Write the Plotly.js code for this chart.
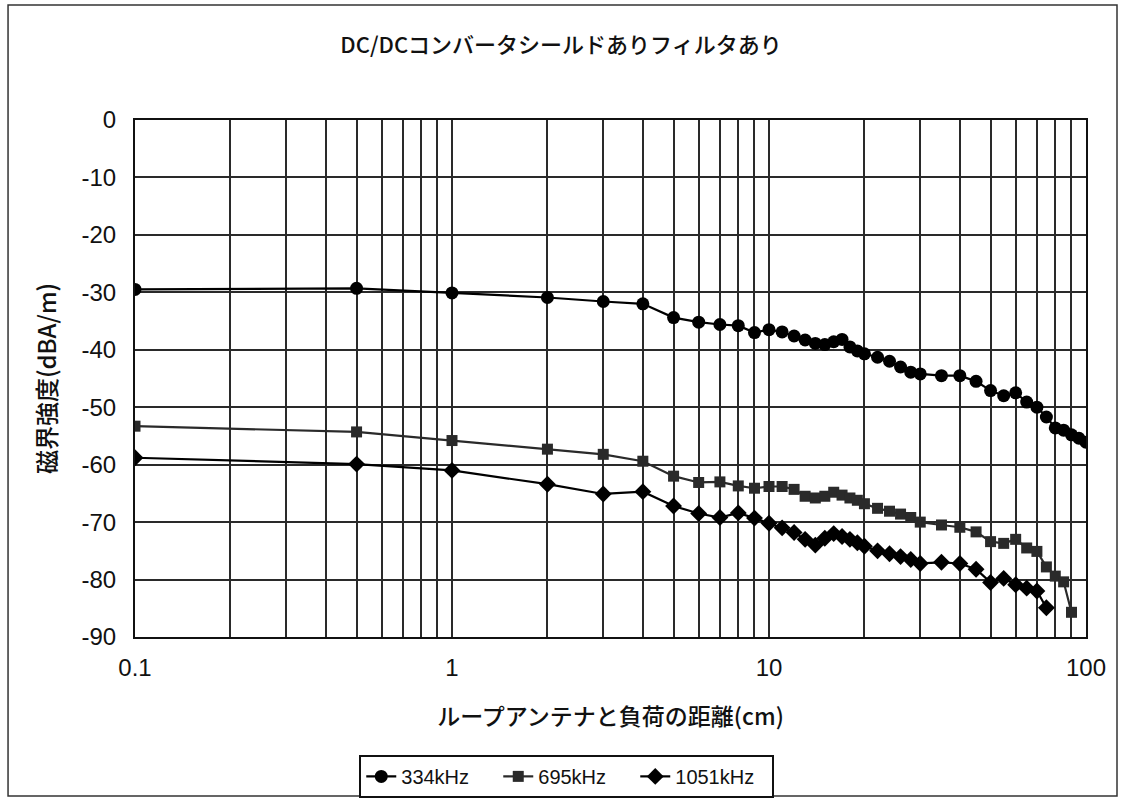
<!DOCTYPE html>
<html>
<head>
<meta charset="utf-8">
<script src="https://cdn.plot.ly/plotly-3.0.1.min.js"></script>
<style>html,body{margin:0;padding:0;background:#fff;}#chart{width:1122px;height:799px;}</style>
</head>
<body>
<div id="chart"></div>
<script>
// Distance between loop antenna and load (cm)
const distance = [0.1, 0.5, 1, 2, 3, 4, 5, 6, 7, 8, 9, 10, 11, 12, 13, 14, 15, 16, 17, 18, 19, 20,
  22, 24, 26, 28, 30, 35, 40, 45, 50, 55, 60, 65, 70, 75, 80, 85, 90, 95, 100];

const s334 = [-29.5, -29.3, -30.1, -30.9, -31.6, -32.0, -34.4, -35.2, -35.6, -35.8, -37.0, -36.5,
  -36.9, -37.6, -38.3, -38.9, -39.1, -38.6, -38.2, -39.5, -40.2, -40.7,
  -41.3, -42.0, -43.0, -43.9, -44.2, -44.5, -44.5, -45.5, -47.1, -48.0, -47.5, -49.1, -50.0,
  -51.7, -53.6, -54.0, -54.8, -55.4, -56.1];

const s695 = [-53.3, -54.3, -55.8, -57.3, -58.2, -59.4, -62.0, -63.1, -63.0, -63.7, -64.1, -63.8,
  -63.8, -64.3, -65.5, -65.8, -65.5, -64.8, -65.3, -65.8, -66.2, -66.8,
  -67.6, -68.1, -68.6, -69.2, -70.0, -70.5, -70.9, -71.7, -73.4, -73.7, -73.0, -74.5, -75.1,
  -77.8, -79.4, -80.4, -85.7];

const s1051 = [-58.8, -59.9, -61.0, -63.4, -65.1, -64.7, -67.2, -68.5, -69.2, -68.4, -69.3, -70.2,
  -71.0, -71.8, -73.0, -74.0, -72.8, -72.0, -72.5, -73.0, -73.6, -74.2,
  -75.0, -75.5, -76.0, -76.5, -77.2, -77.0, -77.2, -78.2, -80.5, -79.8, -80.9, -81.5, -82.0,
  -84.9];

const seriesNames = ['334kHz', '695kHz', '1051kHz'];
const yTickVals = [0, -10, -20, -30, -40, -50, -60, -70, -80, -90];
const yTickText = ['0', '-10', '-20', '-30', '-40', '-50', '-60', '-70', '-80', '-90'];
const xTickVals = [0.1, 1, 10, 100];
const xTickText = ['0.1', '1', '10', '100'];
const xMinorVals = [0.2, 0.3, 0.4, 0.5, 0.6, 0.7, 0.8, 0.9, 2, 3, 4, 5, 6, 7, 8, 9,
  20, 30, 40, 50, 60, 70, 80, 90];

const titleText = 'DC/DCコンバータシールドありフィルタあり';
const xTitle = 'ループアンテナと負荷の距離(cm)';
const yTitle = '磁界強度(dBA/m)';

const jp = '"Noto Sans CJK JP", "Liberation Sans", sans-serif';
const lat = '"Liberation Sans", Arial, sans-serif';

const traces = [
  {x: distance.slice(0, s334.length), y: s334, name: seriesNames[0], type: 'scatter', mode: 'lines+markers',
   line: {color: '#000', width: 2.2}, marker: {symbol: 'circle', size: 13, color: '#000'}},
  {x: distance.slice(0, s695.length), y: s695, name: seriesNames[1], type: 'scatter', mode: 'lines+markers',
   line: {color: '#2a2a2a', width: 2.2}, marker: {symbol: 'square', size: 11, color: '#2a2a2a'}},
  {x: distance.slice(0, s1051.length), y: s1051, name: seriesNames[2], type: 'scatter', mode: 'lines+markers',
   line: {color: '#000', width: 2.2}, marker: {symbol: 'diamond', size: 13, color: '#000'}}
];

const layout = {
  width: 1122, height: 799,
  paper_bgcolor: '#fff', plot_bgcolor: '#fff',
  margin: {l: 135, r: 36, t: 120, b: 162, autoexpand: false},
  showlegend: true,
  title: {text: titleText, x: 0.5, xanchor: 'center', y: 0.943, yanchor: 'middle',
          font: {family: jp, size: 22, color: '#111', weight: 500}},
  xaxis: {
    type: 'log', range: [-1, 2], automargin: false,
    tickvals: xTickVals, ticktext: xTickText,
    tickfont: {family: lat, size: 24, color: '#111'},
    showgrid: true, gridcolor: '#2a2a2a', gridwidth: 2,
    minor: {tickvals: xMinorVals, showgrid: true, gridcolor: '#2a2a2a', gridwidth: 2, ticks: ''},
    showline: true, linecolor: '#111', linewidth: 2, mirror: true,
    ticks: '', ticklabelstandoff: 8,
    zeroline: false,
    title: {text: xTitle, font: {family: jp, size: 23, color: '#111', weight: 500}, standoff: 29}
  },
  yaxis: {
    range: [-90, 0], automargin: false,
    tickvals: yTickVals, ticktext: yTickText,
    tickfont: {family: lat, size: 24, color: '#111'},
    showgrid: true, gridcolor: '#2a2a2a', gridwidth: 2,
    showline: true, linecolor: '#111', linewidth: 2, mirror: true,
    ticks: '', ticklabelstandoff: 12,
    zeroline: false,
    title: {text: yTitle, font: {family: jp, size: 24, color: '#111', weight: 500}, standoff: 18}
  },
  legend: {
    orientation: 'h', x: 0.454, xanchor: 'center', y: -0.228, yanchor: 'top',
    bordercolor: '#111', borderwidth: 2, bgcolor: '#fff',
    font: {family: lat, size: 20, color: '#111'},
    entrywidth: 92, entrywidthmode: 'pixels',
    itemwidth: 30, tracegroupgap: 0
  },
  shapes: [
    {type: 'rect', xref: 'paper', yref: 'paper', x0: -0.1335, x1: 1.0326, y0: -0.3075, y1: 1.2224,
     line: {color: '#333', width: 1.5}, layer: 'below'}
  ]
};

Plotly.newPlot('chart', traces, layout, {displayModeBar: false, staticPlot: true});
</script>
</body>
</html>
